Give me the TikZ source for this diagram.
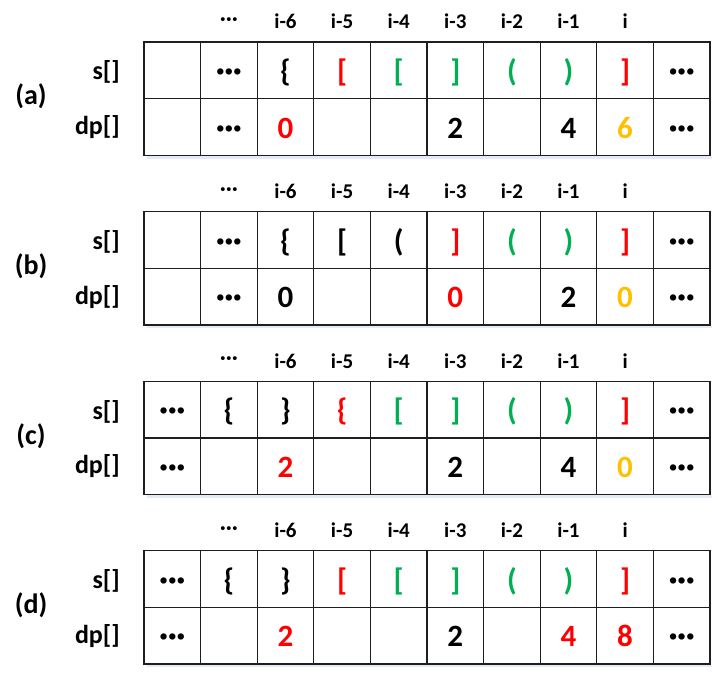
\documentclass[tikz,border=0pt]{standalone}
\usepackage{fontspec}
\setmainfont{Carlito}
\usetikzlibrary{matrix}
\definecolor{cred}{RGB}{255,0,0}
\definecolor{cgreen}{RGB}{0,176,80}
\definecolor{corange}{RGB}{255,192,0}
\definecolor{gridc}{RGB}{30,30,30}
\definecolor{shadowc}{RGB}{228,235,246}
\newcommand\cR[1]{\textcolor{cred}{#1}}
\newcommand\cG[1]{\textcolor{cgreen}{#1}}
\newcommand\cO[1]{\textcolor{corange}{#1}}
\newcommand\cK[1]{\textcolor{black}{#1}}
\newcommand\md{{\fontsize{34}{34}\selectfont ·\kern-0.5pt·\kern-0.5pt·}}
\newcommand\hd{·\kern0.3pt·\kern0.3pt·}
\tikzset{
  cell/.style={draw=gridc, line width=1.3pt, minimum width=56.6pt, minimum height=56.6pt,
    inner sep=0pt, outer sep=0pt, anchor=center, text height=30pt, text depth=7.4pt,
    font=\bfseries\fontsize{31}{31}\selectfont},
  tbl/.style={matrix of nodes, nodes in empty cells, ampersand replacement=\&,
    anchor=north west, inner sep=0pt, outer sep=0pt, column sep=-1.3pt, row sep=-1.3pt,
    nodes={cell}},
  hdr/.style={font=\bfseries\fontsize{21}{21}\selectfont, inner sep=0pt},
  rowlab/.style={font=\bfseries\fontsize{26}{26}\selectfont, inner sep=0pt, anchor=east},
  panlab/.style={font=\bfseries\fontsize{28}{28}\selectfont, inner sep=0pt},
  tshadow/.style={fill=shadowc}
}
\newcommand\labels[1]{%
  \node[hdr] (#1-h2) at ([yshift=20.5pt]#1-1-2.north) {\hd};
  \node[hdr] (#1-h3) at ([yshift=20.5pt]#1-1-3.north) {i-6};
  \node[hdr] (#1-h4) at ([yshift=20.5pt]#1-1-4.north) {i-5};
  \node[hdr] (#1-h5) at ([yshift=20.5pt]#1-1-5.north) {i-4};
  \node[hdr] (#1-h6) at ([yshift=20.5pt]#1-1-6.north) {i-3};
  \node[hdr] (#1-h7) at ([yshift=20.5pt]#1-1-7.north) {i-2};
  \node[hdr] (#1-h8) at ([yshift=20.5pt]#1-1-8.north) {i-1};
  \node[hdr] (#1-h9) at ([yshift=20.5pt]#1-1-9.north) {i};
  \node[rowlab] (#1-ls) at ([xshift=-24pt,yshift=-2pt]#1-1-1.west) {s[]};
  \node[rowlab] (#1-ld) at ([xshift=-24pt]#1-2-1.west) {dp[]};
  \node[panlab] (#1-lab) at ([xshift=-113pt,yshift=2pt]#1-1-1.south west) {(#1)};
  \fill[tshadow] ([xshift=3pt,yshift=-0.7pt]#1-2-1.south west) rectangle ([xshift=2pt,yshift=-3.5pt]#1-2-10.south east);
}
\begin{document}
\begin{tikzpicture}[x=1pt,y=-1pt]
\useasboundingbox (0,0) rectangle (718,675);
\matrix[tbl] (a) at (143.35,41.35) {
   \& \md \& \{ \& \cR{[} \& \cG{[} \& \cG{]} \& \cG{(} \& \cG{)} \& \cR{]} \& \md \\
   \& \md \& \cR{0} \& \& \& 2 \& \& 4 \& \cO{6} \& \md \\
};
\labels{a}
\matrix[tbl] (b) at (143.35,211.05) {
   \& \md \& \{ \& \cK{[} \& \cK{(} \& \cR{]} \& \cG{(} \& \cG{)} \& \cR{]} \& \md \\
   \& \md \& 0 \& \& \& \cR{0} \& \& 2 \& \cO{0} \& \md \\
};
\labels{b}
\matrix[tbl] (c) at (143.35,380.65) {
  \md \& \{ \& \} \& \cR{\{} \& \cG{[} \& \cG{]} \& \cG{(} \& \cG{)} \& \cR{]} \& \md \\
  \md \& \& \cR{2} \& \& \& 2 \& \& 4 \& \cO{0} \& \md \\
};
\labels{c}
\matrix[tbl] (d) at (143.35,550.05) {
  \md \& \{ \& \} \& \cR{[} \& \cG{[} \& \cG{]} \& \cG{(} \& \cG{)} \& \cR{]} \& \md \\
  \md \& \& \cR{2} \& \& \& 2 \& \& \cR{4} \& \cR{8} \& \md \\
};
\labels{d}
\end{tikzpicture}
\end{document}
